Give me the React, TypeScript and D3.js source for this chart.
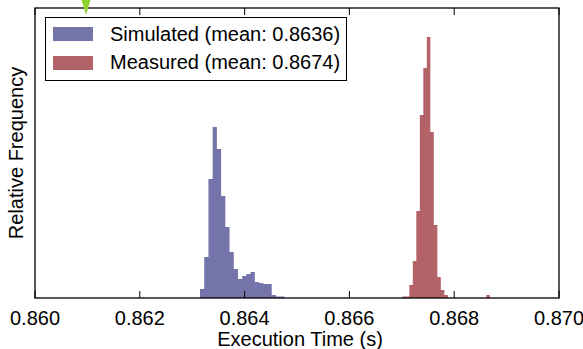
import React from "react";
import * as d3 from "d3";

// ---- data ----
const xTickValues = [0.86, 0.862, 0.864, 0.866, 0.868, 0.87];
const xTickLabels = ["0.860", "0.862", "0.864", "0.866", "0.868", "0.870"];

const simulatedStart = 0.863149;
const simulatedBinWidth = 0.0000805;
const simulatedFreq = [
  0.9, 4.1, 11.9, 17.1, 14.9, 10.2, 7.1, 4.6, 2.9, 1.9, 2.2, 2.4, 2.6, 1.6, 1.5,
  1.4, 1.4, 0.3, 0.15, 0.15,
];

const measuredStart = 0.86701;
const measuredBinWidth = 0.0000668;
const measuredFreq = [
  0.15, 0.15, 1.3, 3.7, 8.7, 18.3, 23.0, 26.1, 16.6, 7.3, 2.1, 0.8, 0.3, 0, 0, 0,
  0, 0, 0, 0, 0, 0, 0, 0, 0.3,
];

const seriesNames = ["Simulated (mean: 0.8636)", "Measured (mean: 0.8674)"];
const xDomain = [0.86, 0.87];
const yDomain = [0, 29];

// ---- layout ----
const W = 583;
const H = 349;
const M = { left: 35, right: 559, top: 8, bottom: 298 };
const BLUE = "#7474aa";
const RED = "#b36268";
const FONT = "'Liberation Sans', Arial, Helvetica, sans-serif";
const FS = 20;

function stepPath(start: number, w: number, vals: number[], x: any, y: any) {
  const pts: [number, number][] = vals.map((v, i) => [start + i * w, v]);
  pts.push([start + vals.length * w, vals[vals.length - 1]]);
  const area = d3
    .area<[number, number]>()
    .x((d) => x(d[0]))
    .y0(y(0))
    .y1((d) => y(d[1]))
    .curve(d3.curveStepAfter);
  return area(pts) || "";
}

export default function App() {
  const x = d3.scaleLinear().domain(xDomain).range([M.left, M.right]);
  const y = d3.scaleLinear().domain(yDomain).range([M.bottom, M.top]);
  const tickLen = 7;

  return (
    <svg
      width={W}
      height={H}
      style={{ position: "absolute", left: 0, top: 0, display: "block", background: "#fff" }}
      fontFamily={FONT}
    >
      <path d={stepPath(simulatedStart, simulatedBinWidth, simulatedFreq, x, y)} fill={BLUE} />
      <path d={stepPath(measuredStart, measuredBinWidth, measuredFreq, x, y)} fill={RED} />

      {/* ticks (inward, top and bottom) */}
      {xTickValues.map((t, i) => (
        <g key={i}>
          <line x1={x(t)} x2={x(t)} y1={M.bottom} y2={M.bottom - tickLen} stroke="#000" strokeWidth={1} />
          <line x1={x(t)} x2={x(t)} y1={M.top} y2={M.top + tickLen} stroke="#000" strokeWidth={1} />
          <text x={x(t)} y={325} fontSize={FS} textAnchor="middle" fill="#000">
            {xTickLabels[i]}
          </text>
        </g>
      ))}

      {/* frame */}
      <rect
        x={M.left}
        y={M.top}
        width={M.right - M.left}
        height={M.bottom - M.top}
        fill="none"
        stroke="#000"
        strokeWidth={1.3}
      />

      {/* legend */}
      <rect x={45.5} y={17.5} width={301} height={63} fill="#fff" stroke="#000" strokeWidth={1} />
      <rect x={53} y={27} width={40} height={14} fill={BLUE} />
      <rect x={53} y={56} width={40} height={14} fill={RED} />
      <text x={110} y={40.5} fontSize={FS} fill="#000">
        {seriesNames[0]}
      </text>
      <text x={110} y={69} fontSize={FS} fill="#000">
        {seriesNames[1]}
      </text>

      {/* axis labels */}
      <text x={300} y={346} fontSize={FS} textAnchor="middle" fill="#000">
        Execution Time (s)
      </text>
      <text
        transform={`translate(23,${(M.top + M.bottom) / 2}) rotate(-90)`}
        fontSize={FS}
        textAnchor="middle"
        fill="#000"
      >
        Relative Frequency
      </text>

      {/* green marker */}
      <polygon points="81.5,0 90.5,0 86,15" fill="#8fd12e" />
    </svg>
  );
}
